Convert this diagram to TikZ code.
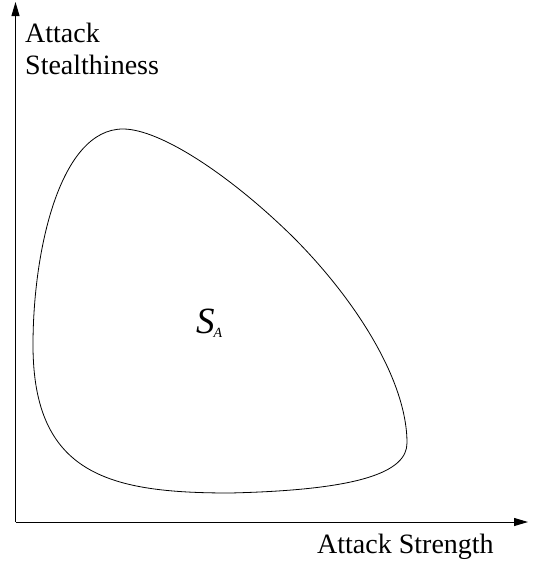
\documentclass[tikz,border=0pt]{standalone}
\usepackage{fontspec}
\setmainfont{Liberation Serif}
\usetikzlibrary{positioning,arrows.meta}
\tikzset{
  axis/.style={-{Triangle[length=14pt,width=8pt]},line width=1pt,draw=black},
  region/.style={line width=0.8pt,draw=black},
  lbl/.style={inner sep=0pt,align=left,font=\fontsize{28}{32}\selectfont},
}

\begin{document}
\begin{tikzpicture}[x=1pt,y=-1pt]
  \useasboundingbox (0,0) rectangle (536,565);
  \coordinate (o) at (15.5,522);
  \coordinate (ytip) at (15.5,2);
  \coordinate (xtip) at (528,522);
  \draw[axis] (o) -- (ytip);
  \draw[axis] (o) -- (xtip);
  \node[lbl,anchor=base west] (ylab) at (25,74) {Attack\\Stealthiness};
  \node[lbl,anchor=base west] (xlab) at (317,553) {Attack Strength};
  % attack set
  \coordinate (top) at (123,129);
  \coordinate (mid) at (293,237);
  \coordinate (rgt) at (407,443);
  \coordinate (bot) at (230,493);
  \coordinate (lft) at (33,345);
  \draw[region] (top) .. controls (160,129) and (230,175) .. (mid)
    .. controls (355,299) and (407,380) .. (rgt)
    .. controls (407,472) and (360,490) .. (bot)
    .. controls (110,493) and (33,475) .. (lft)
    .. controls (33,250) and (60,129) .. (top) -- cycle;
  \node[inner sep=0pt,anchor=base west] (sa) at (196,333)
    {\fontsize{37}{37}\selectfont\itshape S\kern-1pt\raisebox{-4pt}{\fontsize{14}{14}\selectfont A}};
\end{tikzpicture}
\end{document}
